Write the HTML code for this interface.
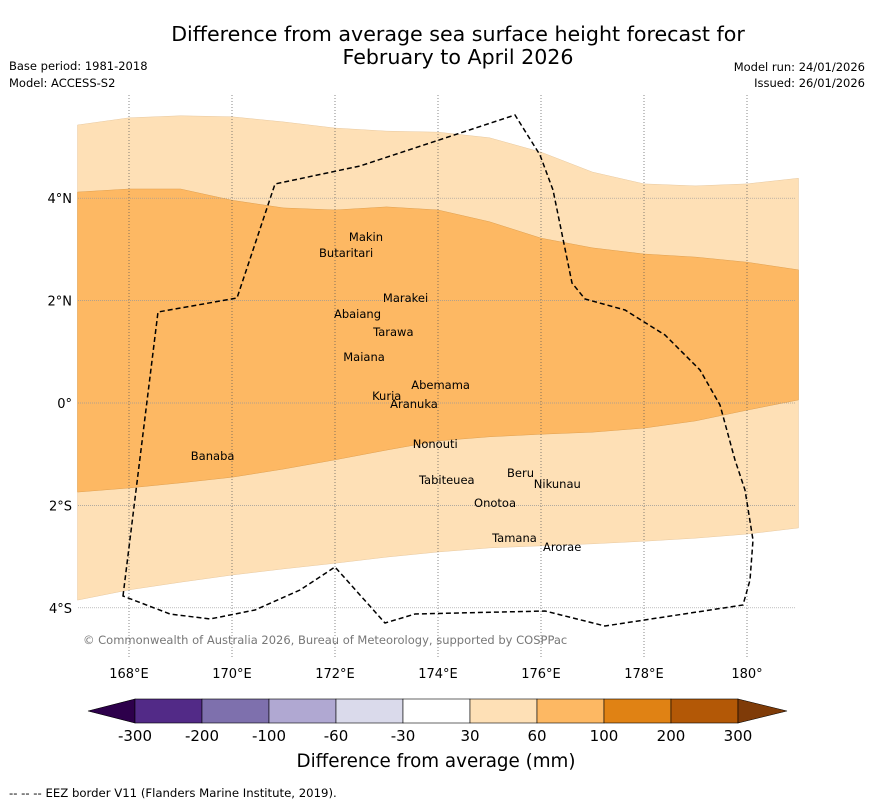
<!DOCTYPE html>
<html><head><meta charset="utf-8"><style>
body{margin:0;background:#fff;width:873px;height:804px;overflow:hidden;font-family:"Liberation Sans","DejaVu Sans",sans-serif}
svg text{font-family:"DejaVu Sans","Liberation Sans",sans-serif}
</style></head><body>
<svg id="chart" width="873" height="804" xmlns="http://www.w3.org/2000/svg">
<text x="458" y="41" font-size="20.6" text-anchor="middle">Difference from average sea surface height forecast for</text>
<text x="458" y="64" font-size="20.6" text-anchor="middle">February to April 2026</text>
<text x="9" y="70" font-size="11.5">Base period: 1981-2018</text>
<text x="9" y="87" font-size="11.5">Model: ACCESS-S2</text>
<text x="865" y="71" font-size="11.5" text-anchor="end">Model run: 24/01/2026</text>
<text x="865" y="87" font-size="11.5" text-anchor="end">Issued: 26/01/2026</text>
<g id="bands"></g>
<g id="grid"></g>
<path fill="none" stroke="#000" stroke-width="1.5" stroke-dasharray="5,3" d="M123,596 L158,312 L237,298 L275,184 L360,166 L515,115 L540,155 L553,190 L572,283 L585,299 L625,310 L665,335 L700,370 L720,405 L735,460 L745,490 L753,540 L750,580 L743,605 L605,626 L545,611 L415,614 L385,623 L335,567 L300,590 L255,610 L210,619 L170,614 Z"/>
<g id="islands" font-size="11.5"></g>
<text x="83" y="644" font-size="11.5" fill="#777">© Commonwealth of Australia 2026, Bureau of Meteorology, supported by COSPPac</text>
<g id="colorbar"></g>
<text x="436" y="767" font-size="18.3" text-anchor="middle">Difference from average (mm)</text>
<text x="9" y="797" font-size="11.7">--  --  -- EEZ border V11 (Flanders Marine Institute, 2019).</text>
</svg>
<script>
const lons=[167,168,169,170,171,172,173,174,175,176,177,178,179,180,181];
const lightTop=[5.43,5.57,5.61,5.59,5.49,5.37,5.31,5.29,5.18,4.90,4.51,4.28,4.24,4.28,4.39];
const darkTop=[4.12,4.18,4.18,3.96,3.81,3.77,3.83,3.77,3.54,3.22,3.03,2.91,2.85,2.75,2.60];
const darkBottom=[-1.74,-1.66,-1.56,-1.45,-1.29,-1.11,-0.92,-0.74,-0.66,-0.61,-0.57,-0.49,-0.35,-0.14,0.06];
const lightBottom=[-3.85,-3.65,-3.50,-3.36,-3.24,-3.13,-3.01,-2.91,-2.83,-2.79,-2.75,-2.70,-2.64,-2.56,-2.44];
const lonTicks=[168,170,172,174,176,178,180];
const lonTickLabels=["168°E","170°E","172°E","174°E","176°E","178°E","180°"];
const latTicks=[4,2,0,-2,-4];
const latTickLabels=["4°N","2°N","0°","2°S","4°S"];
const islandNames=["Makin","Butaritari","Marakei","Abaiang","Tarawa","Maiana","Abemama","Kuria","Aranuka","Nonouti","Banaba","Beru","Nikunau","Tabiteuea","Onotoa","Tamana","Arorae"];
const islandLon=[172.27,171.69,172.93,171.98,172.74,172.16,173.48,172.72,173.07,173.51,169.20,175.34,175.86,173.63,174.70,175.05,176.04];
const islandLat=[3.24,2.93,2.05,1.74,1.39,0.90,0.35,0.14,-0.02,-0.80,-1.04,-1.37,-1.58,-1.50,-1.95,-2.64,-2.81];
const cbColors=["#522a87","#7e70ad","#b0a8d2","#dadaeb","#ffffff","#fee0b6","#fdb863","#e08214","#b35806"];
const cbLabels=["-300","-200","-100","-60","-30","30","60","100","200","300"];
const NS="http://www.w3.org/2000/svg";
const x=lon=>77.5+(lon-167)*51.5;
const y=lat=>403-lat*51.2;
function mk(tag,attrs,parent){const e=document.createElementNS(NS,tag);for(const k in attrs)e.setAttribute(k,attrs[k]);document.getElementById(parent).appendChild(e);return e;}
function band(top,bot){let d="M"+lons.map((l,i)=>x(l)+","+y(top[i])).join(" L");d+=" L"+lons.slice().reverse().map((l,i)=>x(l)+","+y(bot[lons.length-1-i])).join(" L")+" Z";return d;}
let b1=mk("path",{d:band(lightTop,lightBottom),fill:"#fee0b6",stroke:"#e8c9a0","stroke-width":0.5},"bands");


let b2=mk("path",{d:band(darkTop,darkBottom),fill:"#fdb863",stroke:"#e0a050","stroke-width":0.5},"bands");


lonTicks.forEach((l,i)=>{
 let g=mk("line",{x1:x(l),x2:x(l),y1:95,y2:658,stroke:"#555","stroke-width":0.7,"stroke-dasharray":"1,2"},"grid");
 
 
 let t=mk("text",{x:x(l),y:678,"font-size":13,"text-anchor":"middle"},"grid");t.textContent=lonTickLabels[i];
 
 
});
latTicks.forEach((l,i)=>{
 let g=mk("line",{x1:78,x2:796,y1:y(l),y2:y(l),stroke:"#999","stroke-width":0.7,"stroke-dasharray":"1,1"},"grid");
 
 
 let t=mk("text",{x:72,y:y(l)+5,"font-size":13,"text-anchor":"end"},"grid");t.textContent=latTickLabels[i];
 
 
});
islandNames.forEach((n,i)=>{
 let t=mk("text",{x:x(islandLon[i]),y:y(islandLat[i])+4,"text-anchor":"start"},"islands");t.textContent=n;
 
 
});
const cbX0=135,cbW=67,cbY=699,cbH=24;
let lt=mk("polygon",{points:`${cbX0},${cbY} 88,${cbY+cbH/2} ${cbX0},${cbY+cbH}`,fill:"#2d004b",stroke:"#000","stroke-width":0.6},"colorbar");


cbColors.forEach((c,i)=>{
 let r=mk("rect",{x:cbX0+i*cbW,y:cbY,width:cbW,height:cbH,fill:c,stroke:"#000","stroke-width":0.6},"colorbar");
 
 
});
const cbEnd=cbX0+cbColors.length*cbW;
let rt=mk("polygon",{points:`${cbEnd},${cbY} 787,${cbY+cbH/2} ${cbEnd},${cbY+cbH}`,fill:"#7f3b08",stroke:"#000","stroke-width":0.6},"colorbar");


cbLabels.forEach((s,i)=>{
 let t=mk("text",{x:cbX0+i*cbW,y:741,"font-size":15,"text-anchor":"middle"},"colorbar");t.textContent=s;
 
 
});
</script>
</body></html>
